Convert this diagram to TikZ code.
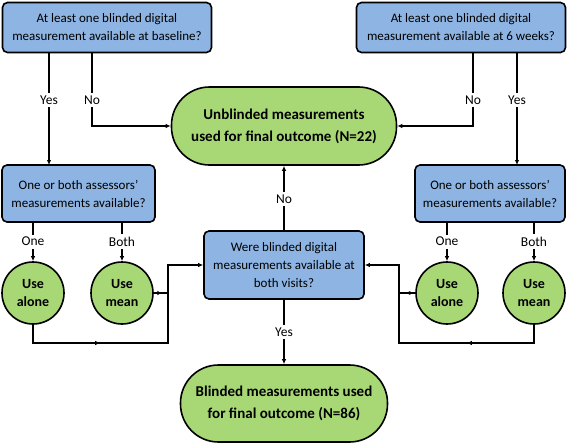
\documentclass[tikz,border=0pt]{standalone}
\usepackage{fontspec}
\setmainfont{Carlito}
\usetikzlibrary{arrows.meta,decorations.markings}
\definecolor{boxblue}{RGB}{141,180,226}
\definecolor{boxgreen}{RGB}{168,216,118}
\tikzset{
  qbox/.style={draw=black,line width=1.6pt,fill=boxblue,rounded corners=5pt,align=center,
    font=\fontsize{13}{18}\selectfont,inner sep=0pt},
  term/.style={draw=black,line width=1.6pt,fill=boxgreen,rounded corners=38pt,align=center,
    font=\bfseries\fontsize{15}{22}\selectfont,inner sep=0pt},
  usecirc/.style={draw=black,line width=1.6pt,fill=boxgreen,circle,minimum size=62pt,align=center,
    font=\bfseries\fontsize{14}{18}\selectfont,inner sep=0pt},
  conn/.style={line width=1.3pt,-{Latex[length=5pt,width=4.5pt]}},
  lbl/.style={fill=white,font=\fontsize{13.5}{14}\selectfont,inner sep=2.5pt},
  midarrow/.style={line width=1.3pt,decoration={markings,mark=at position #1 with {\arrow{Latex[length=5pt,width=4.5pt]}}},postaction={decorate}},
}
\begin{document}
\begin{tikzpicture}[x=1pt,y=-1pt]
\useasboundingbox (0,0) rectangle (567,444);
% boxes
\node[qbox,minimum width=209pt,minimum height=50pt] (tl) at (107,27.5) {At least one blinded digital\\measurement available at baseline?};
\node[qbox,minimum width=209pt,minimum height=50pt] (tr) at (461,27.5) {At least one blinded digital\\measurement available at 6 weeks?};
\node[term,minimum width=225pt,minimum height=78pt] (ub) at (284,126) {Unblinded measurements\\used for final outcome (N=22)};
\node[qbox,minimum width=153pt,minimum height=57pt] (ml) at (78.5,193.5) {One or both assessors'\\measurements available?};
\node[qbox,minimum width=150pt,minimum height=57pt] (mr) at (490,193.5) {One or both assessors'\\measurements available?};
\node[qbox,minimum width=160pt,minimum height=68pt] (mid) at (284,265) {Were blinded digital\\measurements available at\\both visits?};
\node[term,minimum width=207pt,minimum height=77pt] (bb) at (284,403.5) {Blinded measurements used\\for final outcome (N=86)};
\node[usecirc] (la) at (33,293) {Use\\alone};
\node[usecirc] (lm) at (122,293) {Use\\mean};
\node[usecirc] (ra) at (447,293) {Use\\alone};
\node[usecirc] (rm) at (534,293) {Use\\mean};
% coordinates
\coordinate (tlY) at (49,53);
\coordinate (tlN) at (92,53);
\coordinate (trN) at (473,53);
\coordinate (trY) at (517,53);
\coordinate (mlY) at (49,165);
\coordinate (mrY) at (517,165);
\coordinate (mlO) at (33,222);
\coordinate (mlB) at (122,222);
\coordinate (mrO) at (447,222);
\coordinate (mrB) at (534,222);
\coordinate (jl) at (168,293);
\coordinate (jlb) at (168,343);
\coordinate (jr) at (399,293);
\coordinate (jrb) at (399,343);
% top connectors
\draw[conn] (tlY) -- node[lbl,pos=0.42]{Yes} (mlY);
\draw[conn] (tlN) |- node[lbl,pos=0.32]{No} (ub.west);
\draw[conn] (trN) |- node[lbl,pos=0.32]{No} (ub.east);
\draw[conn] (trY) -- node[lbl,pos=0.42]{Yes} (mrY);
% middle
\draw[conn] (mid.north) -- node[lbl,pos=0.48]{No} (ub.south);
\draw[conn] (mid.south) -- node[lbl,pos=0.5]{Yes} (bb.north);
% one/both
\draw[conn] (mlO) -- node[lbl,pos=0.5]{One} (la.north);
\draw[conn] (mlB) -- node[lbl,pos=0.5]{Both} (lm.north);
\draw[conn] (mrO) -- node[lbl,pos=0.5]{One} (ra.north);
\draw[conn] (mrB) -- node[lbl,pos=0.5]{Both} (rm.north);
% left merge
\draw[midarrow=0.6] (lm.east) -- (jl);
\draw[midarrow=0.42] (la.south) |- (jlb) -- (jl);
\draw[conn] (jl) |- (mid.west);
% right merge
\draw[midarrow=0.6] (ra.west) -- (jr);
\draw[midarrow=0.42] (rm.south) |- (jrb) -- (jr);
\draw[conn] (jr) |- (mid.east);
\end{tikzpicture}
\end{document}
